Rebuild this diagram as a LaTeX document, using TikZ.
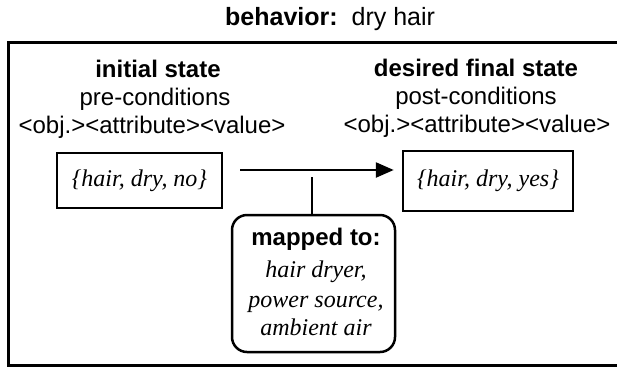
\documentclass[tikz,border=0pt]{standalone}
\usepackage{fontspec}
\setmainfont{Liberation Serif}
\setsansfont{Liberation Sans}
\usetikzlibrary{arrows.meta}
\begin{document}
\begin{tikzpicture}[x=1pt,y=-1pt,
  txt/.style={inner sep=0pt, anchor=base, font=\sffamily\fontsize{24}{28}\selectfont},
  hdr/.style={txt, font=\sffamily\bfseries\fontsize{24}{28}\selectfont},
  itl/.style={txt, font=\rmfamily\itshape\fontsize{24}{28}\selectfont},
  statebox/.style={draw, line width=2.5pt, inner sep=0pt,
    font=\rmfamily\itshape\fontsize{24}{28}\selectfont},
  mapbox/.style={draw, line width=2.5pt, rounded corners=15pt, inner sep=0pt},
  link/.style={line width=2.5pt},
  flow/.style={link, -{Triangle[length=18pt,width=15pt]}}]
\useasboundingbox (0,0) rectangle (617,368);

% title above the frame
\node[txt, anchor=base west] (title) at (225,25)
  {\fontsize{25}{30}\selectfont\textbf{behavior:}~~dry hair};

% open frame (runs off to the right)
\draw[line width=3pt] (617,42) -- (8.5,42) -- (8.5,365) -- (617,365);

% initial state column
\node[hdr] (init) at (158,77) {initial state};
\node[txt] (pre) at (155,105) {pre-conditions};
\node[txt] (oavl) at (152,133) {<obj.><attribute><value>};

% desired final state column
\node[hdr] (final) at (476,76) {desired final state};
\node[txt] (post) at (476,104) {post-conditions};
\node[txt] (oavr) at (477,132) {<obj.><attribute><value>};

% state boxes
\node[statebox, minimum width=165pt, minimum height=55pt] (prebox)
  at (139.5,180.5) {\{hair, dry, no\}};
\node[statebox, minimum width=170pt, minimum height=60pt] (postbox)
  at (488,181) {\{hair, dry, yes\}};

% transition arrow
\draw[flow, shorten <=17pt, shorten >=8pt]
  (prebox.east |- 0,170) -- (postbox.west |- 0,170);

% mapping box
\node[mapbox, minimum width=163pt, minimum height=137pt] (map) at (313.5,283.5) {};
\node[hdr] (mapt) at (316,245) {mapped to:};
\node[itl] (m1) at (316,277) {hair dryer,};
\node[itl] (m2) at (316,307) {power source,};
\node[itl] (m3) at (316,335) {ambient air};

% link from the arrow to the mapping box
\coordinate (tick) at (312,177);
\draw[link] (map.north -| tick) -- (tick);
\end{tikzpicture}
\end{document}
